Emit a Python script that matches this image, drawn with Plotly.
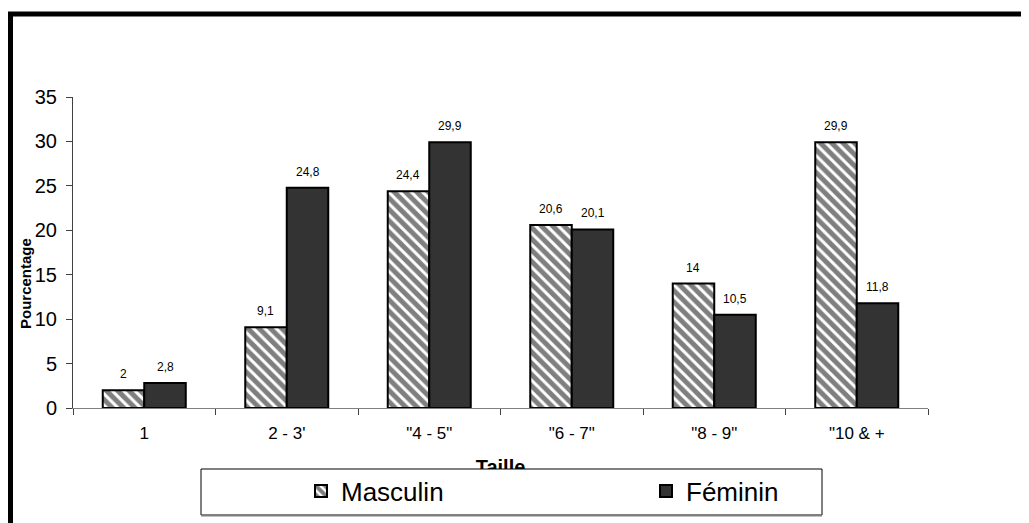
import plotly.graph_objects as go

# ---------------- data ----------------
categories = ['1', "2 - 3'", '"4 - 5"', '"6 - 7"', '"8 - 9"', '"10 & +']
masculin = [2, 9.1, 24.4, 20.6, 14, 29.9]
feminin = [2.8, 24.8, 29.9, 20.1, 10.5, 11.8]
series_names = ['Masculin', 'Féminin']
y_ticks = [0, 5, 10, 15, 20, 25, 30, 35]
x_title = 'Taille'
y_title = 'Pourcentage'

FONT = 'Liberation Sans, Arial, sans-serif'


def fmt(v):
    return f"{v:g}".replace('.', ',')


# ---------------- geometry helpers (screen pixel -> paper) ----------------
OFF = 8                     # page body margin
W, H = 1029 - OFF, 523 - OFF
L, T, B = 73 - OFF, 97 - OFF, 0
PW = 855
R = W - L - PW
PH = H - T - B


def px_x(p):
    return (p - OFF - L) / PW


def px_y(p):
    return (H - B - (p - OFF)) / PH


fig = go.Figure()

fig.add_trace(go.Bar(
    x=categories, y=masculin, name=series_names[0],
    marker=dict(color='white',
                pattern=dict(shape='\\', fgcolor='black', bgcolor='white', size=8, solidity=0.62),
                line=dict(color='black', width=2)),
    hoverinfo='x+y',
))
fig.add_trace(go.Bar(
    x=categories, y=feminin, name=series_names[1],
    marker=dict(color='#333333', line=dict(color='black', width=2)),
    hoverinfo='x+y',
))

# x-axis title, partially hidden by the legend box (clipped subplot)
fig.add_trace(go.Scatter(
    x=[0.5], y=[0.0], mode='text', text=['<b>' + x_title + '</b>'],
    textfont=dict(size=20, color='black', family=FONT),
    xaxis='x2', yaxis='y2', cliponaxis=True, showlegend=False, hoverinfo='skip',
))

annotations = []
for i, v in enumerate(masculin):
    annotations.append(dict(x=i, y=v, xref='x', yref='y', text=fmt(v), showarrow=False,
                            yanchor='bottom', xshift=-21, yshift=7,
                            font=dict(size=12, color='black', family=FONT)))
for i, v in enumerate(feminin):
    annotations.append(dict(x=i, y=v, xref='x', yref='y', text=fmt(v), showarrow=False,
                            yanchor='bottom', xshift=21, yshift=7,
                            font=dict(size=12, color='black', family=FONT)))
annotations.append(dict(x=px_x(25), y=px_y(284), xref='paper', yref='paper', text='<b>' + y_title + '</b>',
                        textangle=-90, showarrow=False, xanchor='center', yanchor='middle',
                        font=dict(size=15, color='black', family=FONT)))

shapes = [
    # thick frame (left & top)
    dict(type='path', xref='paper', yref='paper',
         path=f"M {px_x(10.5)},{px_y(530)} L {px_x(10.5)},{px_y(14)} L {px_x(1040)},{px_y(14)}",
         line=dict(color='black', width=5), layer='above'),
    # legend box
    dict(type='rect', xref='paper', yref='paper',
         x0=px_x(201), x1=px_x(822), y0=px_y(515), y1=px_y(469),
         fillcolor='white', line=dict(color='black', width=1), layer='above'),
    # soft grey lower edge of the legend box
    dict(type='line', xref='paper', yref='paper',
         x0=px_x(201), x1=px_x(822), y0=px_y(515.5), y1=px_y(515.5),
         line=dict(color='#808080', width=2), layer='above'),
]

fig.update_layout(
    width=W, height=H,
    margin=dict(l=L, r=R, t=T, b=B, autoexpand=False),
    paper_bgcolor='white', plot_bgcolor='white',
    font=dict(family=FONT, color='black'),
    barmode='group', bargap=0.4175, bargroupgap=0,
    showlegend=True,
    legend=dict(orientation='h', x=px_x(301), xanchor='left', y=px_y(491), yanchor='middle',
                bgcolor='rgba(0,0,0,0)', borderwidth=0, entrywidth=300, entrywidthmode='pixels',
                font=dict(size=26, family=FONT, color='black'), traceorder='normal'),
    xaxis=dict(domain=[0, 1], anchor='y', showline=True, linecolor='#808080', linewidth=1,
               ticks='outside', ticklen=6, tickcolor='#404040', tickson='boundaries',
               tickfont=dict(size=17), ticklabelstandoff=10, showgrid=False, zeroline=False),
    yaxis=dict(domain=[px_y(408), 1], anchor='x', range=[0, 35], tickvals=y_ticks,
               showline=True, linecolor='#404040', linewidth=1, ticks='outside', ticklen=6,
               tickcolor='#404040', tickfont=dict(size=20), ticklabelstandoff=5,
               showgrid=False, zeroline=False),
    xaxis2=dict(domain=[0, 1], anchor='y2', range=[0, 1], visible=False),
    yaxis2=dict(domain=[px_y(469), px_y(440)], anchor='x2', range=[0, 1], visible=False),
    annotations=annotations,
    shapes=shapes,
)

fig.write_html('out.html')
